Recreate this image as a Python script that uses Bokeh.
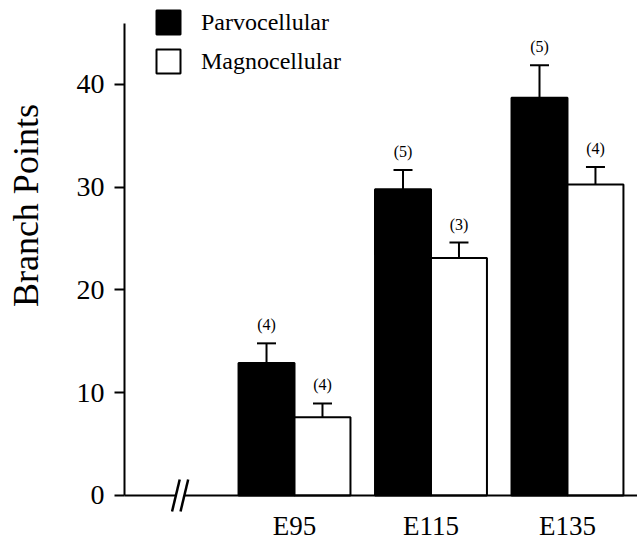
import math
from bokeh.plotting import figure
from bokeh.models import (ColumnDataSource, LabelSet, Label, Whisker, TeeHead, Legend,
                          LegendItem, FixedTicker, Range1d)
from bokeh.embed import file_html
from bokeh.resources import INLINE

# ---- data ----
groups = ["E95", "E115", "E135"]
parvo_mean = [12.9, 29.8, 38.7]
parvo_sem = [1.9, 1.85, 3.15]
parvo_n = ["(4)", "(5)", "(5)"]
magno_mean = [7.6, 23.1, 30.25]
magno_sem = [1.35, 1.5, 1.7]
magno_n = ["(4)", "(3)", "(4)"]
y_ticks = [0, 10, 20, 30, 40]
y_label = "Branch Points"

SERIF = "Liberation Serif"
SANS = "Liberation Sans"
BAR_W = 0.41
OFF = BAR_W / 2

# visible axis extents (data units)
axis_x = -1.245      # where the y axis stands
y_top = 45.9         # top of the y axis line

x_start, x_end = -2.154, 2.513
y_start, y_end = -4.67, 48.15

p = figure(width=637, height=543, x_range=Range1d(x_start, x_end),
           y_range=Range1d(y_start, y_end), output_backend="svg",
           toolbar_location=None, min_border=0)
p.outline_line_color = None
p.grid.visible = False

ya = p.yaxis[0]
ya.fixed_location = axis_x
ya.bounds = (0, y_top)
ya.ticker = FixedTicker(ticks=y_ticks)
ya.minor_tick_line_color = None
ya.major_tick_in = 0
ya.major_tick_out = 10
ya.major_tick_line_width = 2
ya.axis_line_width = 2
ya.major_label_standoff = 10
ya.major_label_text_font = SERIF
ya.major_label_text_font_size = "28px"
ya.major_label_text_color = "black"

idx = list(range(len(groups)))
xa = p.xaxis[0]
xa.fixed_location = 0
xa.ticker = FixedTicker(ticks=idx)
xa.major_label_overrides = {i: g for i, g in zip(idx, groups)}
xa.axis_line_color = None
xa.major_tick_line_color = None
xa.minor_tick_line_color = None
xa.major_tick_in = 0
xa.major_tick_out = 0
xa.major_label_standoff = 16
xa.major_label_text_font = SERIF
xa.major_label_text_font_size = "27px"
xa.major_label_text_color = "black"

p.add_layout(Label(x=-1.97, y=28.2, text=y_label, angle=math.pi / 2,
                   text_align="center", text_baseline="alphabetic",
                   text_font=SERIF, text_font_size="36px", text_color="black"))

xp = [i - OFF for i in idx]
xm = [i + OFF for i in idx]

src_p = ColumnDataSource(dict(x=xp, top=parvo_mean,
                              upper=[m + s for m, s in zip(parvo_mean, parvo_sem)],
                              n=parvo_n))
src_m = ColumnDataSource(dict(x=xm, top=magno_mean,
                              upper=[m + s for m, s in zip(magno_mean, magno_sem)],
                              n=magno_n))

rp = p.vbar(x="x", top="top", bottom=0, width=BAR_W, source=src_p,
            fill_color="black", line_color="black", line_width=2)
rm = p.vbar(x="x", top="top", bottom=0, width=BAR_W, source=src_m,
            fill_color="white", line_color="black", line_width=2)

for src in (src_p, src_m):
    w = Whisker(base="x", lower="top", upper="upper", source=src,
                dimension="height", lower_head=None,
                upper_head=TeeHead(size=19, line_width=2, line_color="black"),
                line_width=2, line_color="black", level="overlay")
    p.add_layout(w)
    p.add_layout(LabelSet(x="x", y="upper", text="n", source=src,
                          text_align="center", text_baseline="bottom",
                          y_offset=10, text_font=SANS, text_font_size="16px",
                          text_color="black"))

# baseline with axis break
brk = -0.835
gap = 0.032
p.segment(x0=[axis_x, brk + gap], y0=[0, 0], x1=[brk - gap, x_end], y1=[0, 0],
          line_width=2, line_color="black")
sl_dx, sl_dy = 0.028, 1.55
p.segment(x0=[brk - 0.034 - sl_dx, brk + 0.028 - sl_dx], y0=[-sl_dy, -sl_dy],
          x1=[brk - 0.034 + sl_dx, brk + 0.028 + sl_dx], y1=[sl_dy, sl_dy],
          line_width=2.5, line_color="black")

legend = Legend(items=[LegendItem(label="Parvocellular", renderers=[rp]),
                       LegendItem(label="Magnocellular", renderers=[rm])],
                location=(153, 467), glyph_width=30, glyph_height=30,
                label_text_font=SERIF, label_text_font_size="24px",
                label_text_color="black",
                label_standoff=18, spacing=9, padding=0, margin=0,
                border_line_color=None, background_fill_alpha=0)
p.add_layout(legend)

open("out.html", "w").write(file_html(p, INLINE))
